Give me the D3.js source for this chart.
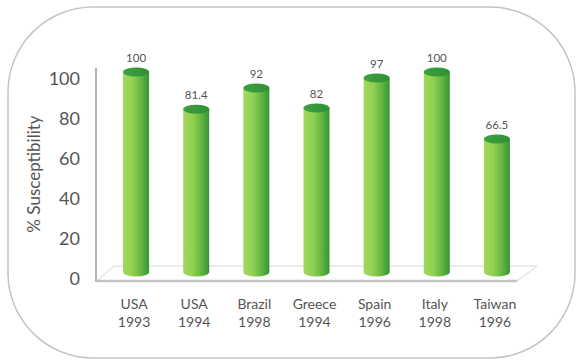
<!DOCTYPE html>
<html>
<head>
<meta charset="utf-8">
<script src="https://cdn.jsdelivr.net/npm/d3@7"></script>
<style>
  html, body { margin: 0; padding: 0; background: #fff; }
  text { font-family: Lato, "Open Sans", sans-serif; fill: #555; }
</style>
</head>
<body>
<svg id="chart"></svg>
<script>
/* Susceptibility bar chart */

var countries = ["USA", "USA", "Brazil", "Greece", "Spain", "Italy", "Taiwan"];
var years = ["1993", "1994", "1998", "1994", "1996", "1998", "1996"];
var values = [100, 81.4, 92, 82, 97, 100, 66.5];
var valueLabels = ["100", "81.4", "92", "82", "97", "100", "66.5"];
var yTicks = [0, 20, 40, 60, 80, 100];

var width = 581, height = 364;

var svg = d3.select("#chart")
  .attr("width", width)
  .attr("height", height);

var defs = svg.append("defs");

var grad = defs.append("linearGradient")
  .attr("id", "barGrad")
  .attr("x1", "0%").attr("x2", "100%")
  .attr("y1", "0%").attr("y2", "0%");
grad.append("stop").attr("offset", "0%").attr("stop-color", "#9fd85c");
grad.append("stop").attr("offset", "35%").attr("stop-color", "#93d253");
grad.append("stop").attr("offset", "70%").attr("stop-color", "#62b640");
grad.append("stop").attr("offset", "100%").attr("stop-color", "#359437");

var capGrad = defs.append("linearGradient")
  .attr("id", "capGrad")
  .attr("x1", "0%").attr("x2", "100%")
  .attr("y1", "0%").attr("y2", "0%");
capGrad.append("stop").attr("offset", "0%").attr("stop-color", "#3fa03e");
capGrad.append("stop").attr("offset", "100%").attr("stop-color", "#2f8f36");

// rounded frame
svg.append("rect")
  .attr("x", 8)
  .attr("y", 7)
  .attr("width", 567)
  .attr("height", 351)
  .attr("rx", 85)
  .attr("ry", 85)
  .attr("fill", "none")
  .attr("stroke", "#c4c4c4")
  .attr("stroke-width", 1.5);

var keys = d3.range(values.length);

var x = d3.scaleBand()
  .domain(keys)
  .range([106, 527]);

// front plane scale (tick labels) and bar scale set back in depth
var yAxisScale = d3.scaleLinear().domain([0, 100]).range([279, 79]);
var depth = 7;
var y = d3.scaleLinear().domain([0, 100]).range([279 - depth, 79 - depth]);

// floor
var floorBackY = 266, floorFrontY = 281;
svg.append("path")
  .attr("d", "M97," + floorFrontY + " L114," + floorBackY + " L537," + floorBackY + " L517," + floorFrontY)
  .attr("fill", "none")
  .attr("stroke", "#d6d6d6")
  .attr("stroke-width", 1);
svg.append("line")
  .attr("x1", 96).attr("x2", 517)
  .attr("y1", floorFrontY).attr("y2", floorFrontY)
  .attr("stroke", "#c2c2c2")
  .attr("stroke-width", 2.5);

// vertical axis line
svg.append("line")
  .attr("x1", 96).attr("x2", 96)
  .attr("y1", 68).attr("y2", 282)
  .attr("stroke", "#b4b4b4")
  .attr("stroke-width", 2);

// y axis tick labels
var yAxis = svg.append("g")
  .attr("transform", "translate(80,0)")
  .call(d3.axisLeft(yAxisScale).tickValues(yTicks).tickSize(0).tickPadding(0));
yAxis.select(".domain").remove();
yAxis.selectAll("text")
  .style("font-family", "Lato, sans-serif")
  .style("font-size", "18px")
  .attr("fill", "#555");

// y title
svg.append("text")
  .attr("transform", "translate(40,174) rotate(-90)")
  .attr("text-anchor", "middle")
  .style("font-size", "17px")
  .text("% Susceptibility");

// bars as cylinders
var rx = 13, ry = 4.5;
var bars = svg.selectAll(".bar")
  .data(keys)
  .enter()
  .append("g")
  .attr("class", "bar");

bars.append("path")
  .attr("d", function (i) {
    var cx = x(i) + x.bandwidth() / 2;
    var top = y(values[i]), base = y(0);
    return "M" + (cx - rx) + "," + top +
      " L" + (cx - rx) + "," + base +
      " A" + rx + "," + ry + " 0 0 0 " + (cx + rx) + "," + base +
      " L" + (cx + rx) + "," + top + " Z";
  })
  .attr("fill", "url(#barGrad)");

bars.append("ellipse")
  .attr("cx", function (i) { return x(i) + x.bandwidth() / 2; })
  .attr("cy", function (i) { return y(values[i]); })
  .attr("rx", rx)
  .attr("ry", ry)
  .attr("fill", "url(#capGrad)");

// value labels
bars.append("text")
  .attr("x", function (i) { return x(i) + x.bandwidth() / 2; })
  .attr("y", function (i) { return y(values[i]) - 10; })
  .attr("text-anchor", "middle")
  .style("font-size", "11.5px")
  .text(function (i) { return valueLabels[i]; });

// category labels
var xl = svg.selectAll(".xlab")
  .data(keys)
  .enter()
  .append("text")
  .attr("class", "xlab")
  .attr("text-anchor", "middle")
  .style("font-size", "14px")
  .attr("x", function (i) { return x(i) + x.bandwidth() / 2 - 2; });
xl.append("tspan")
  .attr("y", 309)
  .text(function (i) { return countries[i]; });
xl.append("tspan")
  .attr("x", function (i) { return x(i) + x.bandwidth() / 2 - 2; })
  .attr("y", 327)
  .text(function (i) { return years[i]; });
</script>
</body>
</html>
